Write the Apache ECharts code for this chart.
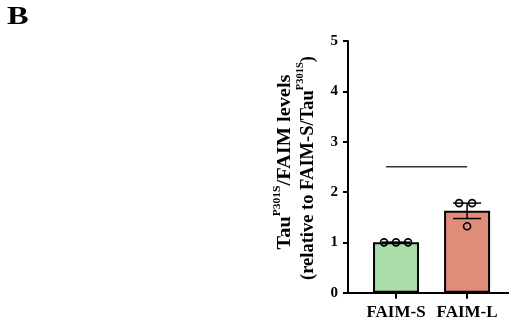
<!DOCTYPE html>
<html>
<head>
<meta charset="utf-8">
<script src="https://cdn.jsdelivr.net/npm/echarts@6/dist/echarts.min.js"></script>
<style>
  html, body { margin: 0; padding: 0; background: #fff; }
  #chart { width: 509px; height: 322px; }
</style>
</head>
<body>
<div id="chart"></div>
<script>
// Groups and their replicate measurements (relative Tau/FAIM levels)
const categories = ['FAIM-S', 'FAIM-L'];
const replicatesS = [1.0, 1.0, 1.0];
const replicatesL = [1.78, 1.78, 1.32];
const yTicks = [0, 1, 2, 3, 4, 5];
// Significance bracket: x range (category index units) and height
const bracketX = [0.86, 2.0];
const bracketY = 2.5;
// Y-axis title, as [text, isSuperscript] runs per line
const titleLine1 = [['Tau', false], ['P301S', true], ['/FAIM levels', false]];
const titleLine2 = [['(relative to FAIM-S/Tau', false], ['P301S', true], [')', false]];

const replicates = [replicatesS, replicatesL];
const mean = a => a.reduce((s, v) => s + v, 0) / a.length;
const sem = a => {
  const m = mean(a);
  const v = a.reduce((s, x) => s + (x - m) * (x - m), 0) / (a.length - 1);
  return Math.sqrt(v) / Math.sqrt(a.length);
};
const means = replicates.map(mean);
const sems = replicates.map(sem);

const barColors = ['#a9dda9', '#e08c7b'];
// horizontal pixel spread of the replicate dots
const dotSpread = [[-12, 0, 12], [-8, 5, 0]];
const serifName = 'Liberation Serif';
const serif = '"Liberation Serif", "Times New Roman", serif';
const mainSize = 18.5;
const supSize = 10.5;
const supRise = 12;

const barData = means.map((m, i) => ({
  value: [i + 1, m],
  itemStyle: { color: barColors[i] }
}));

const dotData = [];
replicates.forEach((arr, i) => {
  arr.forEach((v, j) => {
    dotData.push({ value: [i + 1, v], symbolOffset: [dotSpread[i][j], 0] });
  });
});

const errData = means.map((m, i) => [i + 1, m, m - sems[i], m + sems[i]]);

// Rotated title line built from text runs, centred on centerY, baseline near baselineX
const measureCtx = document.createElement('canvas').getContext('2d');
function fontOf(size) { return 'bold ' + size + 'px "' + serifName + '", serif'; }
function titleGroup(runs, baselineX, centerY, stretch) {
  const widths = runs.map(([t, sup]) => {
    measureCtx.font = fontOf(sup ? supSize : mainSize);
    return measureCtx.measureText(t).width;
  });
  const total = widths.reduce((s, w) => s + w, 0);
  let cursor = -total / 2;
  const children = runs.map(([t, sup], i) => {
    const el = {
      type: 'text',
      x: cursor,
      y: sup ? -supRise : 0,
      style: {
        text: t,
        font: fontOf(sup ? supSize : mainSize),
        fill: '#000',
        align: 'left',
        verticalAlign: 'bottom'
      }
    };
    cursor += widths[i];
    return el;
  });
  return {
    type: 'group',
    x: baselineX,
    y: centerY,
    rotation: Math.PI / 2,
    scaleX: stretch,
    children
  };
}

const chart = echarts.init(document.getElementById('chart'), null, { renderer: 'canvas' });
chart.setOption({
  animation: false,
  backgroundColor: '#fff',
  graphic: [
    {
      type: 'text', x: 7, y: 5, scaleX: 1.3,
      style: { text: 'B', font: 'bold 25px ' + serif, fill: '#000' }
    },
    titleGroup(titleLine1, 295, 162, 1.1),
    titleGroup(titleLine2, 318, 168, 1.0)
  ],
  grid: { left: 348, right: 0, top: 41, bottom: 29.3, containLabel: false },
  xAxis: {
    type: 'value', min: 0.324, max: 2.59,
    splitLine: { show: false },
    axisLine: { show: true, lineStyle: { color: '#000', width: 2 } },
    axisTick: { show: true, customValues: [1, 2], length: 6, lineStyle: { color: '#000', width: 2 } },
    axisLabel: {
      customValues: [1, 2],
      formatter: v => categories[Math.round(v) - 1] || '',
      fontFamily: serif, fontWeight: 'bold', fontSize: 17, color: '#000', margin: 11
    }
  },
  yAxis: {
    type: 'value', min: 0, max: 5, interval: 1,
    splitLine: { show: false },
    axisLine: { show: true, lineStyle: { color: '#000', width: 2 } },
    axisTick: { show: true, length: 5, lineStyle: { color: '#000', width: 2 } },
    axisLabel: {
      formatter: v => yTicks.includes(v) ? String(v) : '',
      fontFamily: serif, fontWeight: 'bold', fontSize: 15, color: '#000', margin: 10
    }
  },
  series: [
    {
      type: 'bar', data: barData, barWidth: 46,
      itemStyle: { borderColor: '#000', borderWidth: 2 },
      z: 2
    },
    {
      type: 'custom',
      data: errData,
      renderItem: (params, api) => {
        const x = api.value(0);
        const top = api.coord([x, api.value(3)]);
        const bot = api.coord([x, api.value(2)]);
        const half = 14;
        return {
          type: 'group',
          children: [
            { type: 'line', shape: { x1: top[0], y1: top[1], x2: bot[0], y2: bot[1] }, style: { stroke: '#000', lineWidth: 1.5 } },
            { type: 'line', shape: { x1: top[0] - half, y1: top[1], x2: top[0] + half, y2: top[1] }, style: { stroke: '#000', lineWidth: 1.5 } },
            { type: 'line', shape: { x1: bot[0] - half, y1: bot[1], x2: bot[0] + half, y2: bot[1] }, style: { stroke: '#000', lineWidth: 1.5 } }
          ]
        };
      },
      z: 3
    },
    {
      type: 'scatter', data: dotData, symbol: 'circle', symbolSize: 7,
      itemStyle: { color: 'rgba(0,0,0,0)', borderColor: '#000', borderWidth: 1.6, opacity: 1 },
      z: 4
    },
    {
      type: 'line',
      data: bracketX.map(x => [x, bracketY]),
      symbol: 'none',
      lineStyle: { color: '#333', width: 1.5 },
      z: 3
    }
  ]
});
</script>
</body>
</html>
